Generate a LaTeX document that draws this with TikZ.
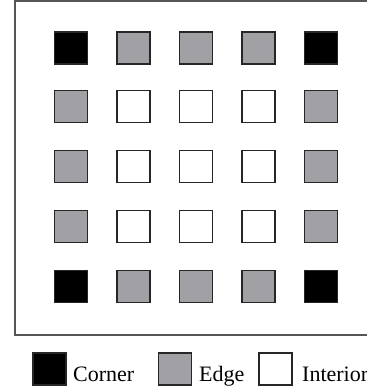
\documentclass[tikz,border=0pt]{standalone}
\usepackage{fontspec}
\setmainfont{Liberation Serif}
\definecolor{cellgray}{HTML}{A1A0A5}
\definecolor{framegray}{HTML}{555555}
\begin{document}
\begin{tikzpicture}[x=1pt,y=-1pt,
  cell/.style={draw=black!85,line width=1.2pt,minimum width=33pt,minimum height=32pt,inner sep=0pt,outer sep=0pt},
  corner/.style={cell,fill=black},
  edgecell/.style={cell,fill=cellgray},
  interior/.style={cell,fill=white},
  legtext/.style={anchor=base west,inner sep=0pt,font=\fontsize{22}{24}\selectfont}]
\useasboundingbox (0,0) rectangle (367,389);
\draw[framegray,line width=1.5pt] (15,1) rectangle (369,335);
\foreach \i/\x in {1/71,2/133.5,3/196,4/258.5,5/321}{
  \foreach \j/\y in {1/48,2/106.5,3/166.5,4/226.5,5/286.5}{
    \pgfmathtruncatemacro{\isx}{(\i==1)||(\i==5)}
    \pgfmathtruncatemacro{\isy}{(\j==1)||(\j==5)}
    \pgfmathtruncatemacro{\kind}{\isx+\isy}
    \ifnum\kind=2 \node[corner] (c\i\j) at (\x,\y) {};
    \else\ifnum\kind=1 \node[edgecell] (c\i\j) at (\x,\y) {};
    \else \node[interior] (c\i\j) at (\x,\y) {};
    \fi\fi
  }
}
\node[corner] (lc) at (49.5,369) {};
\node[legtext] (tc) at (73,381) {Corner};
\node[edgecell] (le) at (175,369) {};
\node[legtext] (te) at (199,381) {Edge};
\node[interior] (li) at (275.5,369) {};
\node[legtext] (ti) at (302,381) {Interior};
\end{tikzpicture}
\end{document}
